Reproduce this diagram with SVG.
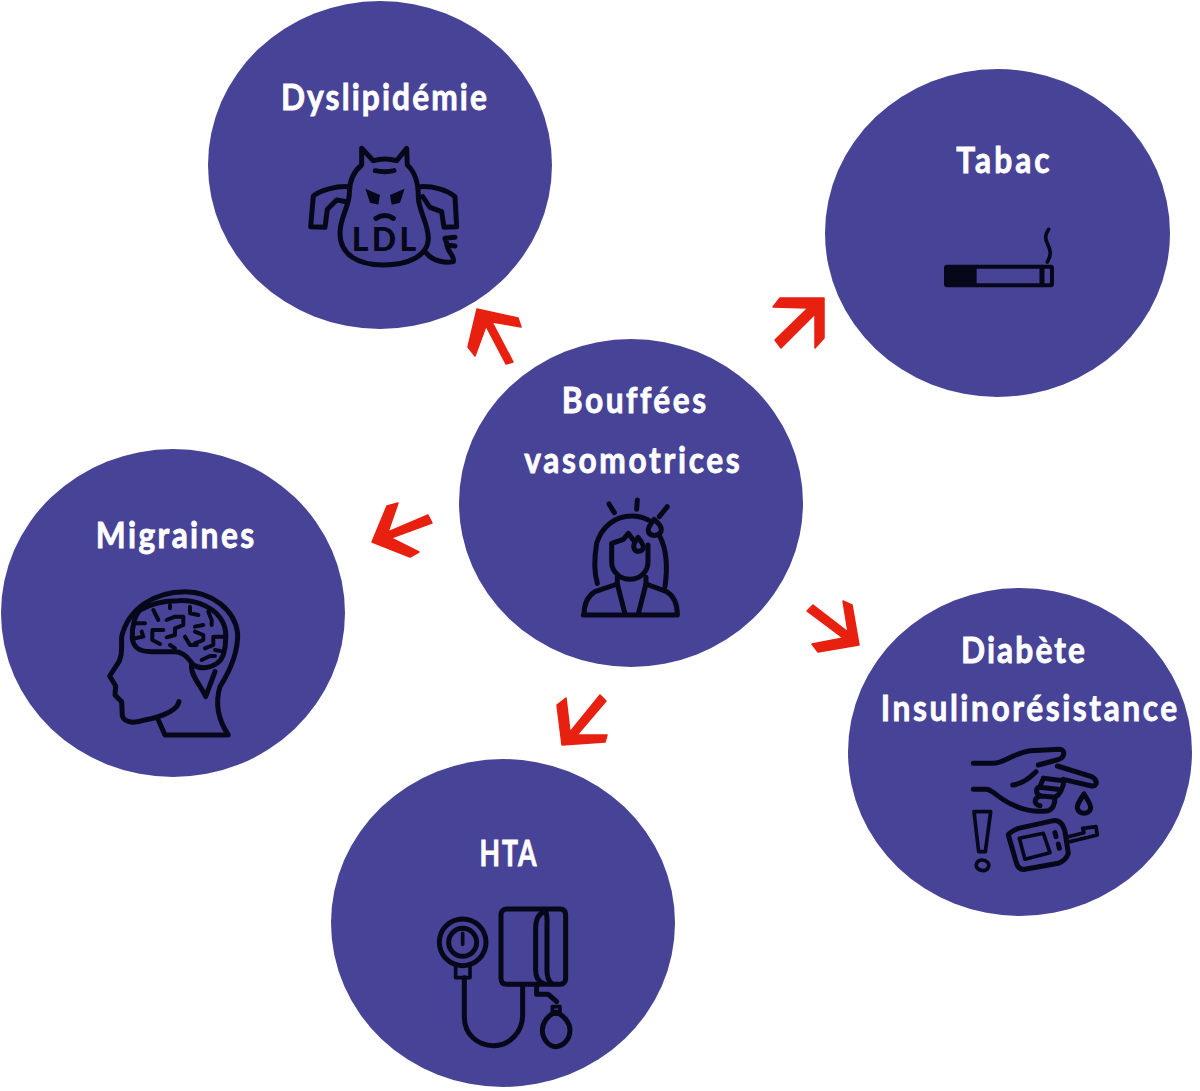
<svg xmlns="http://www.w3.org/2000/svg" width="1200" height="1091" viewBox="0 0 1200 1091">
<style>
.c{fill:#474397}
.t{font-family:"Lato","Liberation Sans",sans-serif;font-weight:700;font-size:36px;fill:#fff;stroke:#fff;stroke-width:.8px;text-anchor:middle;font-variant-ligatures:none}
.i{fill:none;stroke:#07071a;stroke-width:15;stroke-linecap:round;stroke-linejoin:round}
.a{fill:#e8200f;stroke:#e8200f;stroke-width:1.5;stroke-linejoin:round}
</style>
<rect width="1200" height="1091" fill="#fff"/>
<g id="connectors">
<polygon class="a" points="477,309 518,318 521,327 492,322 513,362 506,364 486,326 475,356 468,347"/>
<polygon class="a" points="824,298 780,298 773,307 808,308 775,340 781,348 815,314 815,348 824,338"/>
<polygon class="a" points="372,542 387,506 398,503 388,532 428,515 432,523 391,538 419,552 410,557"/>
<polygon class="a" points="859,645 852,605 843,601 848,632 813,605 807,611 843,638 812,644 818,652"/>
<polygon class="a" points="562,745 557,705 566,698 570,732 600,695 606,701 577,735 607,735 605,742"/>
</g>
<g id="dyslipidemie">
<ellipse class="c" cx="380" cy="165" rx="172" ry="164"/>
<text class="t" transform="translate(384 110) scale(.88 1)" textLength="234">Dyslipidémie</text>
<g transform="translate(290 130) scale(.3333)">
<path class="i" d="M215 105L215 55L250 92Q285 82 320 92L350 55L352 105C385 135 385 180 385 200C385 240 415 280 415 325C415 380 350 405 280 405C205 405 150 375 150 310C150 260 178 230 178 190C178 150 190 125 215 105Z"/>
<path class="i" d="M256 122Q285 128 312 122M258 265Q285 248 310 265"/>
<path d="M226 176L270 195L265 224L240 218ZM344 176L300 195L305 224L330 218Z" fill="#07071a"/>
<path class="i" d="M175 170C140 168 90 180 70 198L62 290L105 292L112 238L140 210L170 215"/>
<path class="i" d="M392 170C430 168 470 180 495 200L500 290L462 292L455 245L420 232L398 200"/>
<path class="i" d="M410 370C430 395 470 400 490 395C495 375 470 365 472 345L465 325L495 322M495 348L470 345"/>
<text x="287" y="362" font-family="Lato,'Liberation Sans',sans-serif" font-weight="900" font-size="96" letter-spacing="10" text-anchor="middle" fill="#07071a">LDL</text>
</g>
</g>
<g id="tabac">
<ellipse class="c" cx="997.5" cy="233" rx="172.500" ry="164"/>
<text class="t" transform="translate(1003 173) scale(.88 1)" textLength="106">Tabac</text>
<g transform="translate(930 220) scale(.3333)">
<rect x="48" y="140" width="318" height="56" rx="4" fill="none" stroke="#07071a" stroke-width="12"/>
<rect x="48" y="140" width="92" height="56" rx="4" fill="#07071a"/>
<path class="i" d="M336 142V194"/>
<path class="i" d="M356 28C345 45 345 55 352 70C362 90 365 105 352 126" style="stroke-width:11"/>
</g>
</g>
<g id="bouffees">
<ellipse class="c" cx="631" cy="503" rx="172" ry="164"/>
<text class="t" transform="translate(634 413) scale(.88 1)" textLength="164">Bouffées</text>
<text class="t" transform="translate(632 473) scale(.88 1)" textLength="245">vasomotrices</text>
<g transform="translate(560 490) scale(.3333)">
<path class="i" d="M70 375H352C352 345 345 320 320 305L258 282M72 375C72 345 80 320 105 305L172 282"/>
<path class="i" d="M172 262V282L195 372M258 262V282L235 372"/>
<path class="i" d="M264 165V215C264 245 240 268 210 268C180 268 155 245 155 215V160L190 148L205 130L218 148"/>
<path class="i" d="M112 280C100 240 105 190 110 160C125 110 165 78 215 78C235 78 250 82 265 90M300 140C315 170 325 220 315 290"/>
<path class="i" d="M282 88C270 105 262 115 265 125C270 140 295 140 303 125C307 110 295 100 282 88Z"/>
<path class="i" d="M234 142C225 155 218 165 222 175C228 188 245 186 250 175C252 165 242 152 234 142Z"/>
<path class="i" d="M147 42L163 68M232 30L230 58M322 50L298 80"/>
</g>
</g>
<g id="migraines">
<ellipse class="c" cx="173" cy="613" rx="172" ry="164"/>
<text class="t" transform="translate(175 548) scale(.88 1)" textLength="180">Migraines</text>
<g transform="translate(95 580) scale(.3333)">
<path class="i" d="M210 465H400C370 420 360 370 375 320C400 280 430 220 428 160C420 90 350 35 270 35C180 35 100 85 80 170C78 200 85 215 72 245L44 288L62 318L60 345L80 365L82 408C90 430 120 430 150 420C200 410 245 395 252 365M190 420L210 465"/>
<path class="i" d="M135 90C120 105 110 140 112 175C115 205 135 215 170 215H240C265 215 280 235 295 255C320 270 370 265 385 225C395 190 395 150 385 130C365 85 310 60 250 62C205 62 165 72 135 90Z"/>
<path class="i" d="M290 255C285 285 320 320 332 350L360 275"/>
<path class="i" style="stroke-width:12" d="M120 130H150M120 175L145 170L140 155M175 90L190 120M172 150H205M172 155V180L195 192M215 120L240 110H265V135L240 145V165L215 172M225 75V85M285 80V100L310 105M340 95L350 120V135M300 140L325 135M300 155L325 165V180L300 190M270 170L285 195H305M355 170V195L330 205M385 170H360M385 215L360 210M320 240L345 228H360M225 195L240 205"/>
</g>
</g>
<g id="diabete">
<ellipse class="c" cx="1020" cy="752" rx="172" ry="164"/>
<text class="t" transform="translate(1023 663) scale(.88 1)" textLength="141">Diabète</text>
<text class="t" transform="translate(1029 721) scale(.88 1)" textLength="337">Insulinorésistance</text>
<g transform="translate(960 740) scale(.3333)">
<path class="i" d="M40 70H100C130 70 160 40 210 32L300 28C318 30 315 55 290 60L235 75"/>
<path class="i" d="M292 78L395 110C415 120 412 140 395 138L310 118"/>
<path class="i" d="M158 135C185 132 205 118 228 95"/>
<path class="i" d="M250 115L240 140C225 145 226 165 245 168L285 172C300 165 310 140 312 122L250 115M240 142L292 148M245 168C222 170 218 195 240 197"/>
<path class="i" d="M40 148H80C100 150 120 180 160 195C190 210 220 218 265 212C285 205 285 180 285 172"/>
<path class="i" d="M372 162C360 180 350 195 352 205C358 225 388 225 392 205C394 195 382 178 372 162Z"/>
<path class="i" d="M42 215H92L76 335H56ZM66 360C50 360 46 375 50 382C58 395 80 395 85 382C90 370 80 360 66 360Z" style="stroke-width:11"/>
<path class="i" d="M145 285C150 275 165 270 175 265L280 242C300 240 310 255 315 275L325 340C320 355 310 365 295 370L195 388C180 390 172 380 168 365Z"/>
<path class="i" d="M178 295L250 280L270 338L195 358Z" style="stroke-width:11"/>
<path class="i" d="M285 278L288 290M295 312L298 325"/>
<path class="i" d="M325 290L372 278L368 265L408 260L412 285L372 295L330 305" style="stroke-width:11"/>
</g>
</g>
<g id="hta">
<ellipse class="c" cx="503" cy="923" rx="172" ry="164"/>
<text class="t" transform="translate(508 866) scale(.74 1)" textLength="77">HTA</text>
<g transform="translate(425 895) scale(.3333)">
<circle class="i" cx="113" cy="142" r="70"/>
<circle class="i" cx="113" cy="142" r="42"/>
<path class="i" d="M113 115V148M92 212V248H135V212" style="stroke-width:11"/>
<path class="i" d="M118 248V365C118 420 160 452 205 452C255 452 293 410 293 360V270"/>
<path class="i" d="M245 42H405C418 42 422 50 422 60V250C422 262 415 268 405 268H245C233 268 228 262 228 250V60C228 50 233 42 245 42Z"/>
<path class="i" d="M362 48C340 55 332 75 332 100V225C332 245 340 260 355 265M362 48C368 60 366 75 366 100V225C366 245 370 258 380 265"/>
<path class="i" d="M335 270V298H370L395 320"/>
<path class="i" d="M382 335V350H405V335H382Z" style="stroke-width:11"/>
<path class="i" d="M392 352C368 360 352 385 352 405C352 435 375 455 392 455C412 455 435 435 435 405C435 385 418 360 392 352Z"/>
</g>
</g>
</svg>
